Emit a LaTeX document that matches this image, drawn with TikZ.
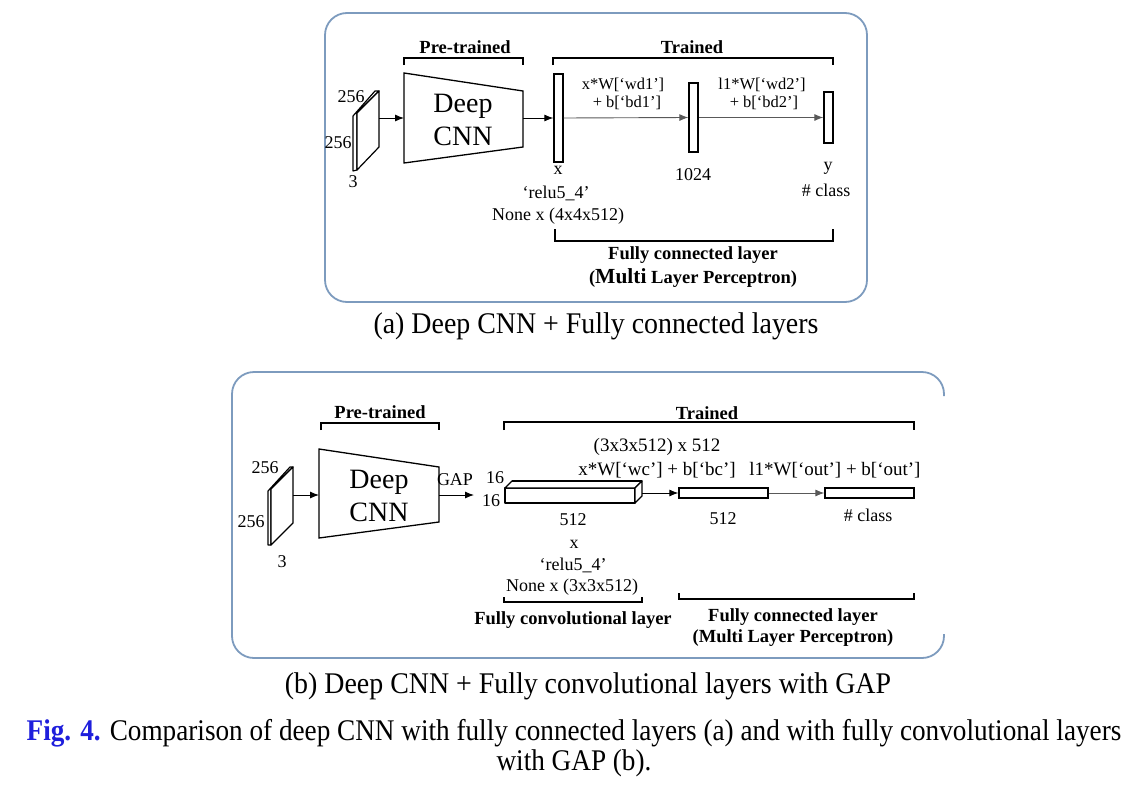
\documentclass[tikz,border=0pt]{standalone}
\usepackage{fontspec}
\setmainfont{Liberation Serif}
\usetikzlibrary{arrows.meta}
\definecolor{frame}{RGB}{125,155,190}
\definecolor{figblue}{RGB}{30,30,220}
\tikzset{
  lbl/.style={font=\fontsize{18}{20}\selectfont, inner sep=0pt},
  lblsm/.style={font=\fontsize{16.5}{18}\selectfont, inner sep=0pt},
  lblb/.style={font=\fontsize{19}{21}\selectfont, inner sep=0pt},
  blbl/.style={font=\fontsize{18.5}{20}\selectfont\bfseries, inner sep=0pt},
  big/.style={font=\fontsize{28}{30}\selectfont, inner sep=0pt},
  captxt/.style={font=\fontsize{30}{32}\selectfont, inner sep=0pt, xscale=0.93},
  panel/.style={draw=frame, line width=1.8pt, rounded corners=22pt},
  layer/.style={draw, line width=1.3pt, fill=white, inner sep=0pt},
  slab/.style={draw, line width=1.2pt, fill=white, line join=round},
  arr/.style={-{Latex[length=9pt,width=7pt]}, line width=0.9pt},
  garr/.style={arr, draw=black!65},
  brk/.style={line width=1.2pt},
}
\begin{document}
\begin{tikzpicture}[x=1pt,y=-1pt]
\useasboundingbox (0,0) rectangle (1142,784);

% ---------------- panel (a) ----------------
\draw[panel] (325,13) rectangle (867,302);

% input slab
\draw[slab] (353,116) -- (375,91) -- (379,91) -- (357,113) -- (357,170) -- (353,171) -- cycle;
\draw[slab] (357,113) -- (379,91) -- (379,147) -- (357,170) -- cycle;
\coordinate (slabA) at (379,118);
\node[lbl] (a256t) at (351,97) {256};
\node[lbl] (a256l) at (338,143) {256};
\node[lbl] (a3) at (353,182) {3};

% deep CNN trapezoid
\draw[line width=1.3pt] (404,73) -- (523,91) -- (523,147) -- (404,163) -- cycle;
\coordinate (cnnAw) at (404,118);
\coordinate (cnnAe) at (523,118);
\node[big] (deepA) at (463,106) {Deep};
\node[big] (cnnA) at (463,136) {CNN};

% layers
\node[layer, minimum width=9pt, minimum height=88pt] (xA) at (558.5,118) {};
\node[layer, minimum width=9pt, minimum height=69pt] (hA) at (693.5,117.5) {};
\node[layer, minimum width=9pt, minimum height=51pt] (yA) at (828.5,117.5) {};

\draw[arr] (slabA) -- (cnnAw);
\draw[arr] (cnnAe) -- (xA.west);
\draw[garr] (xA.east) -- (hA.west);
\draw[garr] (hA.east) -- (yA.west);

\node[lblsm] (wd1) at (623,85) {x*W[‘wd1’]};
\node[lblsm] (bd1) at (627,103) {+ b[‘bd1’]};
\node[lblsm] (wd2) at (762,85) {l1*W[‘wd2’]};
\node[lblsm] (bd2) at (764,103) {+ b[‘bd2’]};
\node[lbl] (xlblA) at (558,170) {x};
\node[lbl] (reluA) at (556,193) {‘relu5\_4’};
\node[lbl] (noneA) at (558,216) {None x (4x4x512)};
\node[lbl] (n1024) at (693,175) {1024};
\node[lbl] (ylbl) at (828,168) {y};
\node[lbl] (clsA) at (826,190) {\# class};

% brackets
\draw[brk] (404,65) -- (404,58) -- (523,58) -- (523,65);
\node[blbl] (preA) at (465,47) {Pre-trained};
\draw[brk] (553,65) -- (553,58) -- (833,58) -- (833,65);
\node[blbl] (trA) at (692,47) {Trained};
\draw[brk] (555,229) -- (555,241) -- (833,241) -- (833,229);
\node[blbl] (fcA) at (693,255) {Fully connected layer};
\node[blbl] (mlpA) at (693,278) {(\fontsize{21.5}{22}\selectfont Multi\fontsize{18.5}{20}\selectfont{} Layer Perceptron)};

\node[captxt] (capA) at (596,326) {(a) Deep CNN + Fully connected layers};

% ---------------- panel (b) ----------------
\draw[panel] (944,396) -- (944,372) -- (232,372) -- (232,658) -- (944,658) -- (944,634);

% input slab
\draw[slab] (268,491) -- (290,467) -- (293,467) -- (271,489) -- (271,545) -- (268,545) -- cycle;
\draw[slab] (271,489) -- (293,467) -- (293,523) -- (271,545) -- cycle;
\coordinate (slabB) at (293,495);
\node[lbl] (b256t) at (265,468) {256};
\node[lbl] (b256l) at (251,522) {256};
\node[lbl] (b3) at (282,562) {3};

% deep CNN
\draw[line width=1.3pt] (319,449) -- (439,467) -- (439,522) -- (319,538) -- cycle;
\coordinate (cnnBw) at (319,495);
\coordinate (cnnBe) at (439,495);
\coordinate (gapEnd) at (474,495);
\node[big] (deepB) at (379,482) {Deep};
\node[big] (cnnB) at (379,512) {CNN};
\node[lbl] (gap) at (455,480) {GAP};

\draw[arr] (slabB) -- (cnnBw);
\draw[arr] (cnnBe) -- (gapEnd);

% fully convolutional box (3D)
\draw[slab, line width=1.3pt] (505,488) rectangle (635,503);
\draw[slab, line width=1.3pt] (505,488) -- (512,481) -- (642,481) -- (635,488) -- cycle;
\draw[slab, line width=1.3pt] (635,488) -- (642,481) -- (642,496) -- (635,503) -- cycle;
\draw[line width=2.4pt] (512,481) -- (642,481);
\coordinate (convE) at (642,493);

\node[layer, minimum width=89pt, minimum height=10pt] (b512) at (723.5,493) {};
\node[layer, minimum width=89pt, minimum height=10pt] (bcls) at (869.5,493) {};

\draw[arr] (convE) -- (b512.west);
\draw[garr] (b512.east) -- (bcls.west);

\node[lbl] (b16a) at (495,478) {16};
\node[lbl] (b16b) at (491,501) {16};
\node[lblb] (wcdim) at (657,447) {(3x3x512) x 512};
\node[lblb] (wc) at (657,470) {x*W[‘wc’] + b[‘bc’]};
\node[lblb] (wout) at (835,470) {l1*W[‘out’] + b[‘out’]};
\node[lbl] (b512a) at (573,520) {512};
\node[lbl] (b512b) at (723,519) {512};
\node[lbl] (clsB) at (868,515) {\# class};
\node[lbl] (xlblB) at (574,544) {x};
\node[lbl] (reluB) at (573,565) {‘relu5\_4’};
\node[lbl] (noneB) at (572,587) {None x (3x3x512)};

\draw[brk] (321,430) -- (321,423) -- (439,423) -- (439,430);
\node[blbl] (preB) at (380,412) {Pre-trained};
\draw[brk] (504,430) -- (504,422) -- (914,422) -- (914,430);
\node[blbl] (trB) at (707,413) {Trained};
\draw[brk] (504,597) -- (504,602) -- (642,602) -- (642,597);
\node[blbl] (fconv) at (573,620) {Fully convolutional layer};
\draw[brk] (679,593) -- (679,599) -- (914,599) -- (914,593);
\node[blbl] (fcB) at (793,617) {Fully connected layer};
\node[blbl] (mlpB) at (793,638) {(Multi Layer Perceptron)};

\node[captxt] (capB) at (588,686) {(b) Deep CNN + Fully convolutional layers with GAP};

% ---------------- figure caption ----------------
\node[captxt, xscale=0.975] (fig1) at (574,733) {{\color{figblue}\bfseries Fig. 4.} Comparison of deep CNN with fully connected layers (a) and with fully convolutional layers};
\node[captxt, xscale=0.975] (fig2) at (574,763) {with GAP (b).};
\end{tikzpicture}
\end{document}
